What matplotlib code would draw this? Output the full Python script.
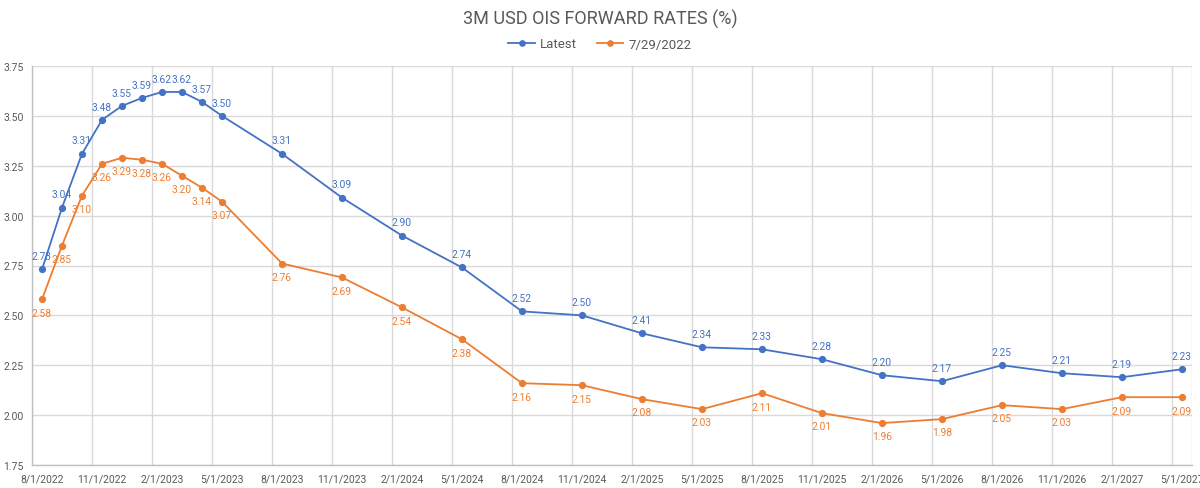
import matplotlib
matplotlib.use("Agg")
import matplotlib.pyplot as plt
from matplotlib.ticker import MultipleLocator, FixedLocator

dates = ["8/1/2022", "9/1/2022", "10/1/2022", "11/1/2022", "12/1/2022", "1/1/2023",
         "2/1/2023", "3/1/2023", "4/1/2023", "5/1/2023", "8/1/2023", "11/1/2023",
         "2/1/2024", "5/1/2024", "8/1/2024", "11/1/2024", "2/1/2025", "5/1/2025",
         "8/1/2025", "11/1/2025", "2/1/2026", "5/1/2026", "8/1/2026", "11/1/2026",
         "2/1/2027", "5/1/2027"]
latest = [2.73, 3.04, 3.31, 3.48, 3.55, 3.59, 3.62, 3.62, 3.57, 3.50, 3.31, 3.09,
          2.90, 2.74, 2.52, 2.50, 2.41, 2.34, 2.33, 2.28, 2.20, 2.17, 2.25, 2.21,
          2.19, 2.23]
prev = [2.58, 2.85, 3.10, 3.26, 3.29, 3.28, 3.26, 3.20, 3.14, 3.07, 2.76, 2.69,
        2.54, 2.38, 2.16, 2.15, 2.08, 2.03, 2.11, 2.01, 1.96, 1.98, 2.05, 2.03,
        2.09, 2.09]
tick_labels = ["8/1/2022", "11/1/2022", "2/1/2023", "5/1/2023", "8/1/2023", "11/1/2023",
               "2/1/2024", "5/1/2024", "8/1/2024", "11/1/2024", "2/1/2025", "5/1/2025",
               "8/1/2025", "11/1/2025", "2/1/2026", "5/1/2026", "8/1/2026", "11/1/2026",
               "2/1/2027", "5/1/2027"]

def month_index(s):
    m, d, y = (int(v) for v in s.split("/"))
    return (y - 2022) * 12 + (m - 8)

x = [month_index(d) for d in dates]
tx = [month_index(d) for d in tick_labels]

plt.rcParams['font.family'] = ['Roboto', 'DejaVu Sans']
BLUE = "#4472C4"
ORANGE = "#ED7D31"
GREY = "#595959"

fig = plt.figure(figsize=(12, 4.89), dpi=100)
ax = fig.add_axes([32/1200, 1 - 466/489, (1192-32)/1200, (466-67)/489])

ax.plot(x, latest, color=BLUE, lw=1.3, marker='o', ms=4.2, label="Latest", zorder=3)
ax.plot(x, prev, color=ORANGE, lw=1.3, marker='o', ms=4.2, label="7/29/2022", zorder=3)

for xi, v in zip(x, latest):
    ax.annotate(f"{v:.2f}", (xi, v), xytext=(0, 6), textcoords="offset points",
                ha='center', va='bottom', fontsize=7.4, color=BLUE)
for xi, v in zip(x, prev):
    ax.annotate(f"{v:.2f}", (xi, v), xytext=(0, -6), textcoords="offset points",
                ha='center', va='top', fontsize=7.4, color=ORANGE)

ax.set_xlim(-0.5, 57.5)
ax.set_ylim(1.75, 3.75)
ax.yaxis.set_major_locator(MultipleLocator(0.25))
ax.yaxis.set_major_formatter(matplotlib.ticker.FormatStrFormatter('%.2f'))
ax.set_xticks(tx)
ax.set_xticklabels(tick_labels)
ax.xaxis.set_minor_locator(FixedLocator([t - 0.5 for t in tx] + [57.5]))
ax.grid(False)
ax.grid(True, which='minor', axis='x', color='#D9D9D9', lw=1)
ax.grid(True, which='major', axis='y', color='#D9D9D9', lw=1)
ax.set_axisbelow(True)
ax.tick_params(axis='both', which='both', length=0, labelsize=7.5, colors=GREY)
ax.tick_params(axis='x', pad=6)
ax.tick_params(axis='y', pad=6)
for s in ['top', 'right']:
    ax.spines[s].set_visible(False)
for s in ['left', 'bottom']:
    ax.spines[s].set_color('#BFBFBF')
    ax.spines[s].set_linewidth(1)

fig.text(0.5, 1 - 19/489, "3M USD OIS FORWARD RATES (%)", ha='center', va='center',
         fontsize=13, color=GREY)
fig.legend(loc='center', bbox_to_anchor=(0.5, 1 - 45/489), ncol=2, frameon=False,
           fontsize=9.5, labelcolor=GREY, handlelength=2, handletextpad=0.4,
           columnspacing=1.5, markerscale=0.9)

fig.savefig("out.png", dpi=100)
